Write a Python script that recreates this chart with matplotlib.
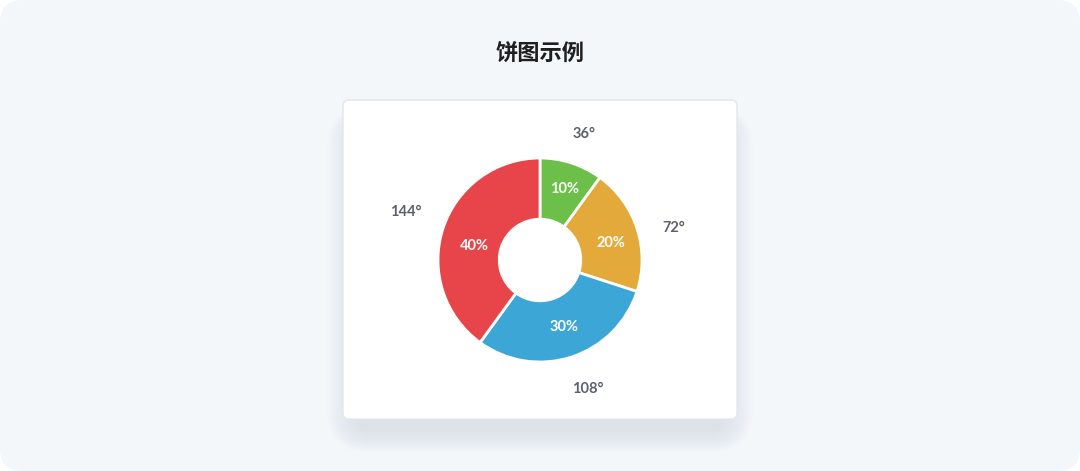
import matplotlib
matplotlib.use("Agg")
import matplotlib.pyplot as plt
from matplotlib.patches import FancyBboxPatch
from matplotlib.transforms import offset_copy
import numpy as np

# ---- data ----
categories = ["A", "B", "C", "D"]
values = [10, 20, 30, 40]
deg_labels = ["36°", "72°", "108°", "144°"]
colors = ["#6CC04A", "#E3A93A", "#3CA7D6", "#E8454B"]
title = "饼图示例"
# small per-label pixel nudges (x right, y down)
label_nudge = [(2, 2), (6, 10), (6, 1), (-6, -6)]
pct_nudge = [(2, -1), (1, 6), (1, -3), (4, 9)]

W, H = 1080, 471
fig = plt.figure(figsize=(W / 100, H / 100), dpi=100)
fig.patch.set_facecolor("white")

bg = fig.add_axes([0, 0, 1, 1])
bg.set_xlim(0, W)
bg.set_ylim(H, 0)
bg.axis("off")

bg.add_patch(FancyBboxPatch((0, 0), W, H, boxstyle="round,pad=0,rounding_size=22",
                            facecolor="#F4F7FA", edgecolor="none", zorder=0))

# soft shadow under the card
for i in range(16):
    grow = 2 + i * 2.0
    bg.add_patch(FancyBboxPatch((343 + 16 - grow, 116 - grow * 0.3), 394 - 32 + 2 * grow, 314 + grow * 1.0,
                                boxstyle="round,pad=0,rounding_size=%f" % (10 + grow),
                                facecolor="#A8AFBA", edgecolor="none", alpha=0.015, zorder=1))

bg.add_patch(FancyBboxPatch((343, 100), 394, 319, boxstyle="round,pad=0,rounding_size=6",
                            facecolor="white", edgecolor="#E3E6EA", linewidth=1.0, zorder=2))

bg.text(540, 53, title, ha="center", va="center", fontsize=16, fontweight="bold",
        color="#1F1F1F", family=["Noto Sans CJK SC", "DejaVu Sans"], zorder=3)

R = 102
half = 1.5 * R
cx, cy = 540, H - 260
ax = fig.add_axes([(cx - half) / W, (cy - half) / H, 2 * half / W, 2 * half / H])
ax.set_zorder(3)
ax.patch.set_alpha(0)

wedges, texts, autotexts = ax.pie(
    values, colors=colors, startangle=90, counterclock=False,
    labels=deg_labels, labeldistance=1.32,
    autopct=lambda p: f"{p:.0f}%", pctdistance=0.72,
    wedgeprops=dict(width=0.6, edgecolor="white", linewidth=2),
    textprops=dict(family=["Lato", "DejaVu Sans"], fontweight="bold"),
)
for t, (dx, dy) in zip(texts, label_nudge):
    t.set_color("#5C616C")
    t.set_fontsize(10.5)
    t.set_ha("center")
    t.set_va("center")
    t.set_transform(offset_copy(ax.transData, fig=fig, x=dx, y=-dy, units="dots"))
for t, (dx, dy) in zip(autotexts, pct_nudge):
    t.set_color("white")
    t.set_fontsize(10.5)
    t.set_ha("center")
    t.set_va("center")
    t.set_transform(offset_copy(ax.transData, fig=fig, x=dx, y=-dy, units="dots"))

ax.set_xlim(-1.5, 1.5)
ax.set_ylim(-1.5, 1.5)
ax.set_aspect("equal")
ax.axis("off")

fig.savefig("out.png", dpi=100, facecolor=fig.get_facecolor())
